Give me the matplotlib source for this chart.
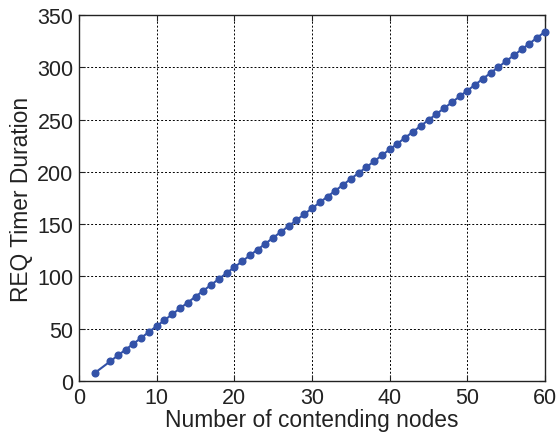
import matplotlib
matplotlib.use("Agg")
import matplotlib.pyplot as plt

nodes = [2] + list(range(4, 61))
req_timer = [7.5, 18.7, 24.4, 30.0, 35.6, 41.2, 46.9, 52.5, 58.1, 63.8,
             69.4, 75.0, 80.7, 86.3, 91.9, 97.5, 103.2, 108.8, 114.4, 120.1,
             125.7, 131.3, 137.0, 142.6, 148.2, 153.8, 159.5, 165.1, 170.7, 176.4,
             182.0, 187.6, 193.3, 198.9, 204.5, 210.1, 215.8, 221.4, 227.0, 232.7,
             238.3, 243.9, 249.6, 255.2, 260.8, 266.4, 272.1, 277.7, 283.3, 289.0,
             294.6, 300.2, 305.9, 311.5, 317.1, 322.7, 328.4, 334.0]
xticks = [0, 10, 20, 30, 40, 50, 60]
yticks = [0, 50, 100, 150, 200, 250, 300, 350]

plt.rcParams['font.family'] = ['Liberation Sans', 'DejaVu Sans']
fig = plt.figure(figsize=(5.59, 4.39), dpi=100)
ax = fig.add_axes([79/559, 1-382/439, (545-79)/559, (382-16)/439])
ax.plot(nodes, req_timer, '-o', color='#3352a8', lw=1.5, ms=4.8, zorder=3, clip_on=False)
ax.set_xlim(0, 60)
ax.set_ylim(0, 350)
ax.set_xticks(xticks)
ax.set_yticks(yticks)
ax.grid(True, color='black', linestyle=(0, (2, 2)), linewidth=0.7)
ax.tick_params(direction='in', top=True, right=True, labelsize=15.5, colors='#222222', length=4)
ax.tick_params(axis='y', pad=4)
ax.tick_params(axis='x', pad=4)
for s in ax.spines.values():
    s.set_linewidth(1.0)
    s.set_color('#222222')
ax.set_xlabel('Number of contending nodes', fontsize=16.4, color='#222222', labelpad=0)
ax.set_ylabel('REQ Timer Duration', fontsize=16.4, color='#222222', labelpad=3)
fig.savefig('out.png', dpi=100)
